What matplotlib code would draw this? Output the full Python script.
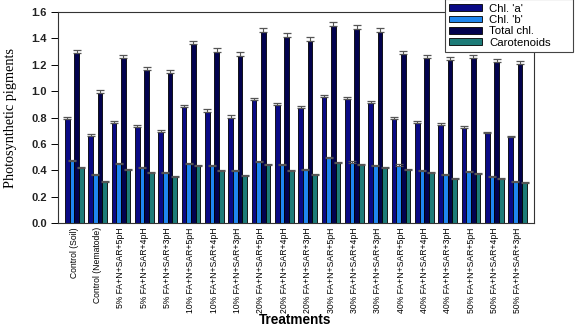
import matplotlib
matplotlib.use("Agg")
import matplotlib.pyplot as plt
import numpy as np

categories = [
    "Control (Soil)", "Control (Nematode)",
    "5% FA+N+SAR+5pH", "5% FA+N+SAR+4pH", "5% FA+N+SAR+3pH",
    "10% FA+N+SAR+5pH", "10% FA+N+SAR+4pH", "10% FA+N+SAR+3pH",
    "20% FA+N+SAR+5pH", "20% FA+N+SAR+4pH", "20% FA+N+SAR+3pH",
    "30% FA+N+SAR+5pH", "30% FA+N+SAR+4pH", "30% FA+N+SAR+3pH",
    "40% FA+N+SAR+5pH", "40% FA+N+SAR+4pH", "40% FA+N+SAR+3pH",
    "50% FA+N+SAR+5pH", "50% FA+N+SAR+4pH", "50% FA+N+SAR+3pH",
]
chl_a = [0.79, 0.66, 0.76, 0.73, 0.69, 0.88, 0.845, 0.80, 0.93, 0.895, 0.87,
         0.955, 0.94, 0.91, 0.79, 0.76, 0.74, 0.72, 0.68, 0.65]
chl_b = [0.47, 0.365, 0.445, 0.415, 0.38, 0.45, 0.43, 0.395, 0.465, 0.44, 0.40,
         0.494, 0.458, 0.43, 0.436, 0.395, 0.365, 0.385, 0.352, 0.314]
total_chl = [1.29, 0.99, 1.25, 1.16, 1.135, 1.355, 1.30, 1.27, 1.447, 1.41, 1.38,
             1.498, 1.475, 1.447, 1.28, 1.25, 1.235, 1.25, 1.22, 1.205]
carotenoids = [0.42, 0.31, 0.40, 0.38, 0.35, 0.43, 0.395, 0.357, 0.44, 0.395, 0.365,
               0.454, 0.44, 0.415, 0.40, 0.378, 0.335, 0.37, 0.335, 0.306]
err_a = [0.018, 0.015, 0.016, 0.015, 0.015, 0.018, 0.017, 0.016, 0.019, 0.018, 0.017,
         0.019, 0.019, 0.018, 0.016, 0.015, 0.015, 0.015, 0.014, 0.013]
err_b = [0.009, 0.007, 0.009, 0.008, 0.008, 0.009, 0.009, 0.008, 0.009, 0.009, 0.008,
         0.010, 0.009, 0.009, 0.009, 0.008, 0.007, 0.008, 0.007, 0.006]
err_total = [0.025, 0.020, 0.025, 0.023, 0.023, 0.027, 0.026, 0.025, 0.029, 0.028, 0.028,
             0.030, 0.029, 0.029, 0.026, 0.025, 0.025, 0.025, 0.024, 0.024]
err_car = [0.008, 0.006, 0.008, 0.008, 0.007, 0.009, 0.008, 0.007, 0.009, 0.008, 0.007,
           0.009, 0.009, 0.008, 0.008, 0.008, 0.007, 0.007, 0.007, 0.006]

series = [
    ("Chl. 'a'", chl_a, err_a, "#0a0a85"),
    ("Chl. 'b'", chl_b, err_b, "#1f86f0"),
    ("Total chl.", total_chl, err_total, "#02024e"),
    ("Carotenoids", carotenoids, err_car, "#1d7b78"),
]

fig = plt.figure(figsize=(5.77, 3.27), dpi=100)
ax = fig.add_axes([0.1005, 0.318, 0.825, 0.645])

x = np.arange(len(categories))
w = 0.2
handles = []
for i, (name, vals, errs, col) in enumerate(series):
    pos = x - 0.3 + i * w
    b = ax.bar(pos, vals, width=w, color=col, edgecolor="black", linewidth=0.6,
               label=name, zorder=2)
    handles.append(b)
    ax.errorbar(pos, vals, yerr=[np.zeros(len(errs)), errs], fmt="none",
                ecolor="#555555", elinewidth=0.8, capsize=3.2, capthick=0.9, zorder=3)

ax.set_xlim(-0.7, 19.7)
ax.set_ylim(0, 1.6)
ticks = np.arange(0, 1.61, 0.2)
ax.set_yticks(ticks)
ax.set_yticklabels([f"{v:.1f}" for v in ticks],
                   fontsize=8, fontweight="bold", family=["Liberation Sans", "DejaVu Sans"],
                   color="#222222")
ax.tick_params(axis="y", direction="out", length=5, width=0.7, pad=3)
ax.set_xticks(x)
ax.set_xticklabels(categories, rotation=90, fontsize=6.2,
                   family=["Liberation Sans", "DejaVu Sans"])
ax.tick_params(axis="x", length=0, pad=3)
for s in ax.spines.values():
    s.set_linewidth(0.8)
    s.set_color("#333333")

ax.set_ylabel("Photosynthetic pigments", family=["Liberation Serif", "DejaVu Serif"],
              fontsize=10.3, labelpad=10)
fig.text(0.512, 0.0, "Treatments", ha="center", va="bottom",
         fontsize=9.8, fontweight="bold", family=["Liberation Sans", "DejaVu Sans"])

leg = fig.legend(handles=handles, loc="upper left",
                 bbox_to_anchor=(0.771, 0.5, 0.222, 0.503), mode="expand",
                 handlelength=2.9, handleheight=0.5, labelspacing=0.12,
                 handletextpad=0.6, borderpad=0.4, borderaxespad=0, fancybox=False,
                 framealpha=1, edgecolor="#444444",
                 prop={"family": ["Liberation Sans", "DejaVu Sans"], "size": 8.2})
leg.get_frame().set_linewidth(0.8)

fig.savefig("out.png", dpi=100)
